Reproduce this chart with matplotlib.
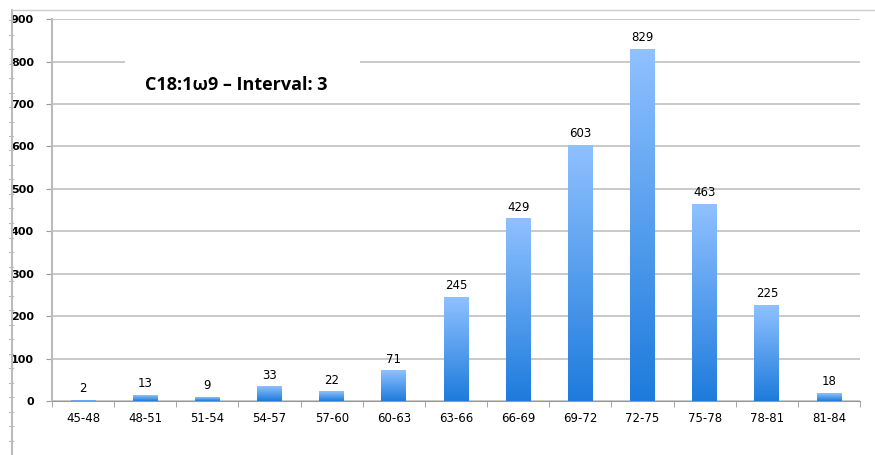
import numpy as np
import matplotlib
matplotlib.use("Agg")
import matplotlib.pyplot as plt
from matplotlib.colors import LinearSegmentedColormap
from matplotlib.lines import Line2D
from matplotlib.patches import Rectangle

# data
categories = ["45-48", "48-51", "51-54", "54-57", "57-60", "60-63", "63-66",
              "66-69", "69-72", "72-75", "75-78", "78-81", "81-84"]
counts = [2, 13, 9, 33, 22, 71, 245, 429, 603, 829, 463, 225, 18]
yticks = [0, 100, 200, 300, 400, 500, 600, 700, 800, 900]
title = "C18:1\u03c99 \u2013 Interval: 3"

fig = plt.figure(figsize=(8.75, 4.55), dpi=100)
ax = fig.add_axes([0.0594, 0.1187, 0.9236, 0.8393])

# bar gradient: dark at the bottom, light at the top
cmap = LinearSegmentedColormap.from_list("bar", ["#1d7bdc", "#8fc1ff"])
grad = np.linspace(0, 1, 256).reshape(-1, 1)
width = 0.4
x = np.arange(len(categories))
bars = ax.bar(x, counts, width=width, color="none", edgecolor="none", zorder=3)
for b in bars:
    bx, bw, bh = b.get_x(), b.get_width(), b.get_height()
    ax.imshow(grad, cmap=cmap, origin="lower", aspect="auto",
              extent=[bx, bx + bw, 0, bh], zorder=3)
for xi, v in zip(x, counts):
    ax.text(xi, v + 12, str(v), ha="center", va="bottom", fontsize=8.5, zorder=4)

ax.set_xlim(-0.5, len(categories) - 0.5)
ax.set_ylim(0, 900)
ax.set_yticks(yticks)
ax.set_xticks(x)
ax.set_xticklabels(categories, fontsize=8.5)
ax.set_xticks(np.arange(-0.5, len(categories)), minor=True)
ax.tick_params(axis="x", which="major", length=0, pad=8)
ax.tick_params(axis="x", which="minor", length=4, color="#999999", direction="out")
ax.tick_params(axis="y", length=4, color="#999999", labelsize=8, pad=9)
for lab in ax.get_yticklabels():
    lab.set_fontweight("bold")
ax.grid(axis="y", color="#c0c0c0", linewidth=1.2, zorder=0)
ax.set_axisbelow(True)
for s in ["top", "right"]:
    ax.spines[s].set_visible(False)
ax.spines["left"].set_color("#bbbbbb")
ax.spines["left"].set_linewidth(1.5)
ax.spines["bottom"].set_color("#999999")

# white box behind the title hides the 800 gridline
ax.add_patch(Rectangle((0.67, 755), 3.79, 100, facecolor="white",
                       edgecolor="none", zorder=2))
ax.text(1.0, 733, title, fontsize=13, fontweight="bold",
        family=["Open Sans", "DejaVu Sans"], zorder=4)

# spreadsheet edges around the chart
fig.add_artist(Line2D([12 / 875, 12 / 875], [0, 1 - 10 / 455], color="#bbbbbb", lw=1.5))
fig.add_artist(Line2D([12 / 875, 1], [1 - 10 / 455, 1 - 10 / 455], color="#cccccc", lw=1))
for yy in np.arange(20, 455, 14.5):
    fig.add_artist(Line2D([9 / 875, 13 / 875], [1 - yy / 455] * 2, color="#bbbbbb", lw=0.8))

fig.savefig("out.png", dpi=100)
